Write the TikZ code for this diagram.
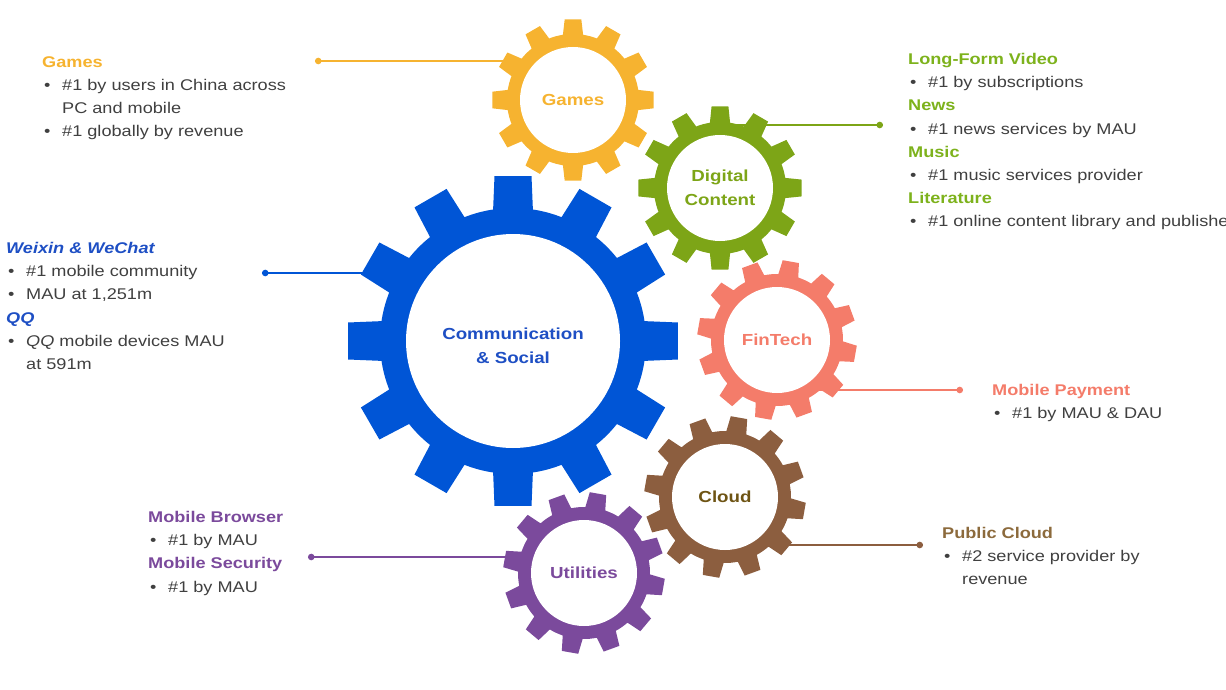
\documentclass[tikz,border=0pt]{standalone}
\usepackage{fontspec}
\setmainfont{Liberation Sans}[FakeStretch=1.17]
\usetikzlibrary{positioning, backgrounds, arrows.meta}

\definecolor{commblue}{HTML}{0055D6}
\definecolor{commtext}{HTML}{1E4FC4}
\definecolor{gamesorange}{HTML}{F6B330}
\definecolor{dcgreen}{HTML}{7DA517}
\definecolor{dchead}{HTML}{7DB21C}
\definecolor{finsalmon}{HTML}{F47C6A}
\definecolor{cloudbrown}{HTML}{8C5E3F}
\definecolor{cloudtext}{HTML}{6E5414}
\definecolor{cloudhead}{HTML}{8C6A3C}
\definecolor{utilpurple}{HTML}{7B4A9C}
\definecolor{bodygray}{HTML}{404040}

% list helpers
\newcommand{\infohead}[2]{\textcolor{#1}{\textbf{#2}}}
\newcommand{\infobul}{\hspace*{2pt}\makebox[18pt][l]{\textbullet}}
\newcommand{\infocont}{\hspace*{20pt}}

% #1 centre, #2 colour, #3 body radius, #4 tip radius, #5 base half angle, #6 tip half angle, #7 offset
\newcommand{\cog}[7]{%
  \fill[#2, shift={(#1.center)}] ({#7-#5}:#3)
    \foreach \t in {0,30,...,330}{
      -- ({#7+\t-#6}:#4) -- ({#7+\t+#6}:#4) -- ({#7+\t+#5}:#3)
      arc[start angle={#7+\t+#5}, end angle={#7+\t+30-#5}, radius=#3]
    } -- cycle;
}

\begin{document}
\begin{tikzpicture}[
    x=1pt, y=-1pt,
    hub/.style={circle, fill=white, inner sep=0pt, align=center, font=\bfseries\fontsize{16}{24}\selectfont},
    info/.style={anchor=north west, inner sep=0pt, align=left, text=bodygray, font=\fontsize{15.5}{23.2}\selectfont},
    link/.style={line width=1.6pt, {Circle[length=6.5pt]}-}
  ]
  \useasboundingbox (0,0) rectangle (1226,690);

  % gear centres
  \node[hub, minimum size=214pt, text=commtext] (comm) at (513,341) {\rule{0pt}{22pt}Communication\\\& Social};
  \node[hub, minimum size=106pt, text=gamesorange] (games) at (573,100) {Games};
  \node[hub, minimum size=106pt, text=dcgreen] (digital) at (720,188) {Digital\\Content};
  \node[hub, minimum size=106pt, text=finsalmon] (fintech) at (777,340) {FinTech};
  \node[hub, minimum size=106pt, text=cloudtext] (cloud) at (725,497) {Cloud};
  \node[hub, minimum size=106pt, text=utilpurple] (utilities) at (584,573) {Utilities};

  % text blocks
  \node[info] (gamesinfo) at (42,56) {\infohead{gamesorange}{Games}\\
    \infobul\#1 by users in China across\\
    \infocont PC and mobile\\
    \infobul\#1 globally by revenue};
  \node[info] (digitalinfo) at (908,53) {\infohead{dchead}{Long-Form Video}\\
    \infobul\#1 by subscriptions\\
    \infohead{dchead}{News}\\
    \infobul\#1 news services by MAU\\
    \infohead{dchead}{Music}\\
    \infobul\#1 music services provider\\
    \infohead{dchead}{Literature}\\
    \infobul\#1 online content library and publisher};
  \node[info] (comminfo) at (6,242) {\infohead{commtext}{\textit{Weixin \& WeChat}}\\
    \infobul\#1 mobile community\\
    \infobul MAU at 1,251m\\
    \infohead{commtext}{\textit{QQ}}\\
    \infobul\textit{QQ} mobile devices MAU\\
    \infocont at 591m};
  \node[info] (fintechinfo) at (992,384) {\infohead{finsalmon}{Mobile Payment}\\
    \infobul\#1 by MAU \& DAU};
  \node[info] (cloudinfo) at (942,527) {\infohead{cloudhead}{Public Cloud}\\
    \infobul\#2 service provider by\\
    \infocont revenue};
  \node[info] (utilinfo) at (148,511) {\infohead{utilpurple}{Mobile Browser}\\
    \infobul\#1 by MAU\\
    \infohead{utilpurple}{Mobile Security}\\
    \infobul\#1 by MAU};

  \coordinate (gamesdot) at (315,61);
  \coordinate (digitaldot) at (883,125);
  \coordinate (commdot) at (262,273);
  \coordinate (fintechdot) at (963,390);
  \coordinate (clouddot) at (923,545);
  \coordinate (utildot) at (308,557);

  \begin{scope}[on background layer]
    \draw[link, gamesorange] (gamesdot) -- (gamesdot -| games.center);
    \draw[link, dcgreen] (digitaldot) -- (digitaldot -| digital.center);
    \draw[link, commblue] (commdot) -- (commdot -| comm.center);
    \draw[link, finsalmon] (fintechdot) -- (fintechdot -| fintech.center);
    \draw[link, cloudbrown] (clouddot) -- (clouddot -| cloud.center);
    \draw[link, utilpurple] (utildot) -- (utildot -| utilities.center);

    \cog{comm}{commblue}{133}{166}{8.6}{6.4}{0}
    \cog{games}{gamesorange}{66}{81}{8.8}{5.9}{0}
    \cog{digital}{dcgreen}{66}{82}{8.8}{5.9}{0}
    \cog{fintech}{finsalmon}{66}{80}{8.8}{5.9}{10}
    \cog{cloud}{cloudbrown}{66}{81}{8.8}{5.9}{10}
    \cog{utilities}{utilpurple}{66}{81}{8.8}{5.9}{10}
  \end{scope}
\end{tikzpicture}
\end{document}
